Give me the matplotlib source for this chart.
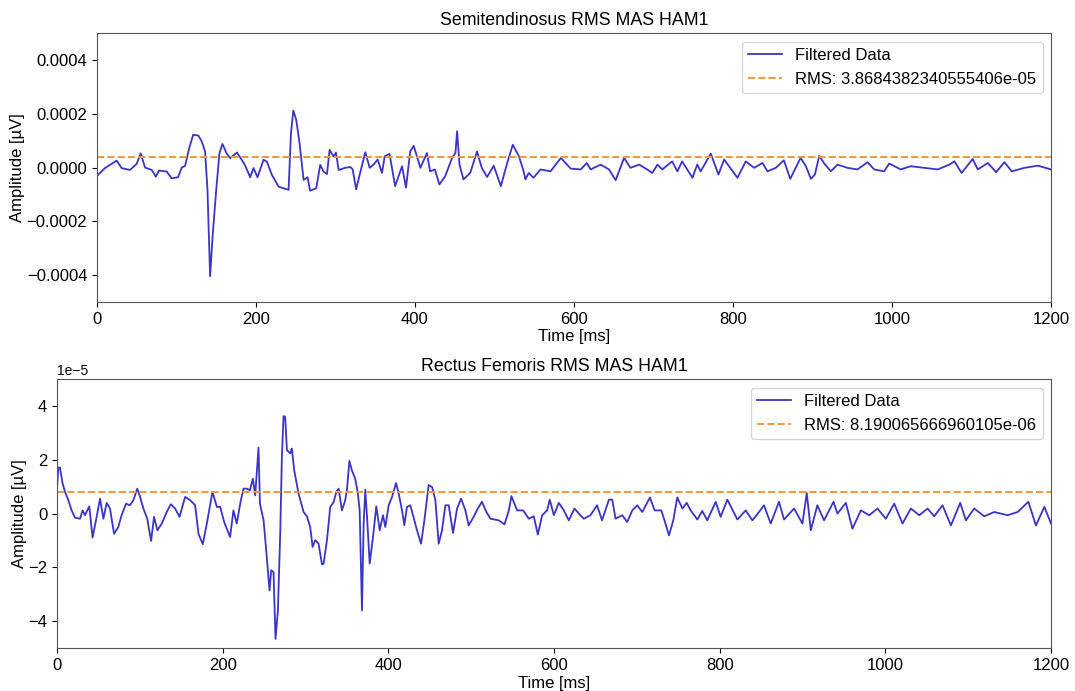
import numpy as np
import matplotlib.pyplot as plt

plt.rcParams['font.family'] = ['Liberation Sans', 'DejaVu Sans']

# Semitendinosus (values read in units of 1e-4 uV)
st_time = [0, 10, 18.5, 24.8, 31, 41.5, 50, 55, 60.5, 69, 74, 78, 87.7, 94, 102,
           106.6, 110.8, 116, 121, 127.6, 131.8, 136, 139, 142.3, 145.7, 150,
           154, 157.8, 163, 167.5, 176, 182, 186, 192.7, 196.9, 201.9, 209.5,
           213.7, 220, 228.4, 241, 244, 247, 250.6, 254.8, 259.9, 264.9, 268,
           275.8, 280.8, 285, 289.3, 292.6, 297.6, 300.6, 304, 312, 318.7,
           321.6, 326, 331, 337.5, 343, 348, 353, 358.5, 361.9, 368, 375,
           383.7, 388.7, 394, 398.4, 406.8, 415, 419, 425, 430.7, 438, 446.7,
           450.9, 453, 456, 461, 469.5, 478, 484, 490.7, 499, 508, 516, 523,
           530.7, 536, 539, 543, 549, 558, 570.5, 583.5, 596, 608.5, 616, 621,
           633.5, 644, 652.4, 663, 671, 682, 692, 698.5, 705, 711, 723.5, 730,
           736, 749, 755, 759.4, 772, 781.7, 788.8, 805.6, 816, 826.6, 837,
           843.4, 853.8, 864, 872, 885, 891.7, 898, 903, 908.5, 914.8, 923,
           931.5, 944, 956.5, 969.3, 977.6, 990, 996.5, 1011, 1023.6, 1040.5,
           1057.5, 1072, 1078.5, 1087.5, 1101.5, 1107.8, 1120.5, 1131, 1141.4,
           1150.6, 1166.6, 1183.4, 1200]
st_amp = [-0.31, -0.02, 0.14, 0.26, -0.02, -0.09, 0.14, 0.53, 0, -0.09, -0.34,
          -0.11, -0.15, -0.4, -0.36, 0, 0.06, 0.72, 1.22, 1.19, 0.97, 0.6,
          -0.83, -4.04, -2.45, -0.83, 0.53, 0.88, 0.53, 0.35, 0.56, 0.29, 0.1,
          -0.36, -0.02, -0.36, 0.29, 0.22, -0.27, -0.71, -0.83, 1.28, 2.12,
          1.78, 0.91, -0.46, -0.36, -0.86, -0.77, 0.1, -0.15, -0.24, 0.66,
          0.41, 0.56, -0.09, -0.01, 0.02, -0.07, -0.81, -0.2, 0.57, -0.01,
          0.11, 0.3, -0.2, 0.42, 0.51, -0.69, 0.05, -0.75, 0.6, 0.81, -0.01,
          0.54, -0.14, -0.07, -0.63, -0.32, 0.36, 0.54, 1.35, 0.11, -0.44,
          -0.2, 0.6, -0.01, -0.35, 0.07, -0.69, 0.17, 0.85, 0.42, -0.07, -0.44,
          -0.2, -0.38, -0.07, -0.14, 0.36, -0.04, -0.07, 0.17, -0.07, 0.11,
          -0.07, -0.47, 0.36, -0.01, 0.11, -0.07, -0.2, 0.11, -0.07, 0.23,
          -0.14, 0.23, -0.38, 0.11, -0.14, 0.52, -0.26, 0.3, -0.38, 0.23,
          -0.01, 0.17, -0.14, -0.01, 0.27, -0.42, 0.36, 0.05, -0.42, -0.26,
          0.44, 0.15, -0.14, 0.11, -0.01, -0.07, 0.2, -0.07, -0.14, 0.15,
          -0.07, 0.05, -0.01, -0.07, 0.11, 0.23, -0.2, 0.32, -0.07, 0.17,
          -0.17, 0.2, -0.14, -0.01, 0.07, -0.07]
st_rms = 3.8684382340555406e-05

# Rectus femoris (values read in units of 1e-5 uV)
rf_time = [0, 1.6, 3.6, 6.8, 9.7, 13.7, 17.7, 21.7, 27.8, 31, 33.8, 39, 43,
           47.9, 52, 56, 60, 64, 68.9, 74, 78, 83.4, 88, 92.2, 97, 100.3,
           104.3, 109, 113.6, 117.2, 121.2, 126.5, 132.5, 137.4, 142.6, 147.9,
           154.7, 160.8, 166.8, 170.8, 176, 180.9, 187.7, 193, 197, 201.8, 209,
           213, 217, 222, 225.2, 229, 233, 236.5, 239.3, 243.3, 245, 249.4,
           252.6, 256.6, 258.6, 261.4, 263.8, 266.7, 269.6, 271.5, 273.5,
           275.5, 277.6, 281.6, 283.6, 286.4, 291.6, 297.7, 301.7, 305.7,
           308.6, 311.8, 315.8, 319.9, 321.9, 325.9, 329.9, 334, 337.2, 340,
           344, 348, 350, 353, 356, 360, 363, 365.4, 368.2, 370.2, 372.2, 374.3,
           377.5, 381.5, 385.5, 389.6, 393.6, 396.4, 400.4, 404.5, 409.3,
           412.5, 416.5, 419.3, 422.5, 426.6, 431.4, 434.6, 439.5, 443.5,
           448.7, 452.8, 456.8, 460.8, 464.8, 468.9, 472.9, 478.1, 483, 487.8,
           493, 497, 503, 508, 513, 518.4, 523.3, 533.3, 540.2, 545.5, 548.6,
           555.5, 562.8, 569.6, 575.6, 580.5, 585.7, 591.7, 594.9, 599.8,
           605.8, 611.9, 617.9, 624.7, 630, 636, 644, 652, 658, 666.3, 670.3,
           674.3, 682.4, 688.4, 694.5, 700.5, 706.5, 715.8, 721.5, 729.5,
           732.8, 738.8, 744, 748.8, 755, 760.2, 765, 773, 779, 785, 795.2,
           801.2, 809.3, 821.4, 831.4, 839.5, 847.5, 853.5, 861.6, 871.6,
           877.7, 889.8, 899.9, 905.1, 910, 917.9, 926, 937.4, 942.2, 952.3,
           960.3, 970.4, 980.5, 990.5, 1000.6, 1010.7, 1020.7, 1030.8, 1040.9,
           1051, 1059, 1069, 1079.1, 1090.4, 1097.2, 1107.3, 1119.4, 1131.5,
           1147.6, 1159.7, 1172.6, 1181.8, 1191.9, 1200]
rf_amp = [0.87, 1.71, 1.71, 1.12, 0.81, 0.5, 0.12, -0.15, -0.19, 0.12, -0.06,
          0.27, -0.89, -0.12, 0.56, -0.19, 0.4, 0.19, -0.75, -0.5, -0.06, 0.37,
          0.31, 0.5, 0.93, 0.62, 0.19, -0.19, -1.02, -0.12, -0.62, -0.37, 0.06,
          0.35, 0.19, -0.12, 0.62, 0.5, 0.31, -0.75, -1.14, -0.37, 0.81, 0.25,
          0.25, -0.31, -0.87, 0.12, -0.37, 0.5, 0.93, 0.93, 0.87, 1.3, 0.68,
          2.46, 0.37, -0.25, -1.37, -2.86, -2.11, -2.17, -4.66, -3.6, -0.62,
          2.11, 3.63, 3.6, 2.36, 2.24, 2.42, 1.61, 0.75, 0.06, -0.1, -0.5,
          -1.24, -0.99, -1.12, -1.89, -1.86, -0.99, 0.25, 0.43, 0.81, 0.93,
          0.12, 0.5, 0.87, 1.96, 1.61, 1.3, 0.81, 0.12, -3.6, -0.37, 0.89,
          -0.12, -1.86, -0.87, 0.27, -0.62, -0.06, -0.5, 0.31, 0.62, 1.14,
          0.75, 0.12, -0.43, 0.25, 0.31, -0.25, -0.62, -1.12, -0.25, 1.06,
          0.99, 0.5, -1.12, -0.62, 0.31, 0.31, -0.72, 0.19, 0.56, 0.12, -0.44,
          -0.12, 0.19, 0.44, 0.06, -0.19, -0.25, -0.4, 0.12, 0.65, 0.12, 0.12,
          -0.19, -0.1, -0.78, -0.06, 0.12, 0.52, -0.06, 0.4, 0.12, -0.25,
          0.19, 0, -0.19, -0.06, 0.31, -0.25, 0.52, 0.52, -0.19, -0.06, -0.31,
          0.12, 0.31, 0.06, 0.6, 0.12, 0.12, -0.19, -0.81, -0.25, 0.6, 0.19,
          0.4, 0.12, -0.22, 0.1, -0.25, 0.44, -0.12, 0.52, -0.22, 0.12, -0.25,
          0.06, 0.31, -0.37, 0.44, -0.22, 0.19, -0.37, 0.77, -0.62, 0.31,
          -0.25, 0.44, 0, 0.4, -0.56, 0.12, -0.06, 0.19, -0.19, 0.37, -0.37,
          0.19, -0.06, 0.19, -0.1, 0.31, -0.44, 0.4, -0.25, 0.19, -0.1, 0.06,
          -0.06, 0.06, 0.44, -0.44, 0.25, -0.37]
rf_rms = 8.190065666960105e-06

line_color = '#3a35c6'
rms_color = '#f4973a'


def plot_panel(ax, t, amp, rms, title, ylim):
    ax.plot(t, amp, color=line_color, linewidth=1.3, label='Filtered Data')
    ax.axhline(rms, color=rms_color, linestyle='--', linewidth=1.4,
               label=f'RMS: {rms}')
    ax.set_xlim(0, 1200)
    ax.set_ylim(*ylim)
    ax.set_title(title, fontsize=12.8)
    ax.set_xlabel('Time [ms]', fontsize=12, labelpad=2)
    ax.set_ylabel('Amplitude [µV]', fontsize=12, labelpad=1)
    ax.tick_params(labelsize=12)
    ax.legend(loc='upper right', fontsize=12)
    for s in ax.spines.values():
        s.set_color('#555555')


fig = plt.figure(figsize=(10.75, 6.91), dpi=100)
ax1 = fig.add_axes([0.0902, 0.563, 0.8875, 0.389])
ax2 = fig.add_axes([0.053, 0.0622, 0.9247, 0.389])

plot_panel(ax1, st_time, np.array(st_amp) * 1e-4, st_rms,
           'Semitendinosus RMS MAS HAM1', (-0.0005, 0.0005))
plot_panel(ax2, rf_time, np.array(rf_amp) * 1e-5, rf_rms,
           'Rectus Femoris RMS MAS HAM1', (-5e-5, 5e-5))
ax1.set_yticks([-0.0004, -0.0002, 0, 0.0002, 0.0004])
ax2.set_yticks([-4e-5, -2e-5, 0, 2e-5, 4e-5])

plt.savefig('out.png', dpi=100)
